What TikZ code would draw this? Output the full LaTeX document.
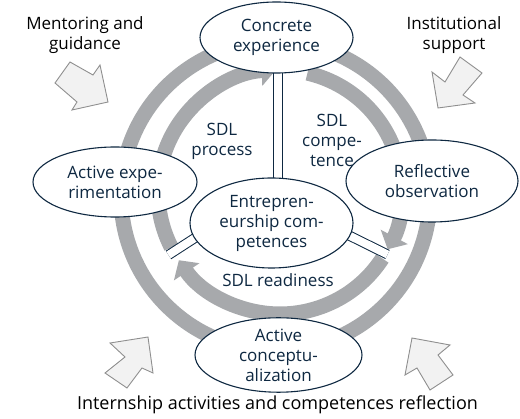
\documentclass[tikz,border=0pt]{standalone}
\usepackage{fontspec}
\setmainfont{Open Sans}
\usetikzlibrary{arrows.meta,shapes.geometric}
\definecolor{ringgray}{HTML}{A7A9AC}
\definecolor{navy}{HTML}{0E2841}
\definecolor{arrfill}{HTML}{F2F2F2}
\definecolor{arrline}{HTML}{8F8F8F}
\begin{document}
\begin{tikzpicture}[x=1pt,y=-1pt,
  ring/.style={draw=ringgray, line width=15pt},
  ringarrow/.style={ring, arrows={-Triangle[width=30pt,length=14pt]}},
  spoke/.style={draw=navy, line width=1pt, double=white, double distance=8pt},
  stage/.style={ellipse, draw=navy, fill=white, line width=1.1pt, inner sep=0pt, align=center, text=navy},
  lbl/.style={align=center, text=navy, inner sep=0pt},
  outer/.style={align=center, text=black, inner sep=0pt},
  blockarrow/.style={draw=arrline, fill=arrfill, line width=0.9pt, line join=miter},
  every node/.style={font=\fontsize{17}{20}\selectfont}
]
\useasboundingbox (0,0) rectangle (520,419);

% outer ring
\draw[ring] (275.5,196) circle[radius=154.5];
% inner ring segments
\coordinate (ic) at (280,192);
\draw[ringarrow] (ic) ++(153:122) arc[start angle=153, end angle=268, radius=122];
\draw[ringarrow] (ic) ++(283:122) arc[start angle=283, end angle=388, radius=122];
\draw[ringarrow] (ic) ++(33:122) arc[start angle=33, end angle=146, radius=122];

% spokes
\coordinate (st1) at (277.5,60);
\coordinate (st2) at (277.5,190);
\coordinate (sr1) at (337,229.5);
\coordinate (sr2) at (387.5,254.5);
\coordinate (sl1) at (208,229.5);
\coordinate (sl2) at (168.5,255);
\draw[spoke] (st1) -- (st2);
\draw[spoke] (sr1) -- (sr2);
\draw[spoke] (sl1) -- (sl2);

% stages
\node[stage, minimum width=153pt, minimum height=71pt] (ce) at (276.5,37.5) {Concrete\\experience};
\node[stage, minimum width=164pt, minimum height=70pt] (ae) at (115,182) {Active expe-\\rimentation};
\node[stage, minimum width=172pt, minimum height=82pt] (ro) at (432,181) {Reflective\\observation};
\node[stage, minimum width=163pt, minimum height=90pt] (ec) at (271.5,223) {Entrepren-\\eurship com-\\petences};
\node[stage, minimum width=167pt, minimum height=74pt] (ac) at (278.5,355) {Active\\conceptu-\\alization};

% sector labels
\node[lbl] (sp) at (222,141) {SDL\\process};
\node[lbl] (sc) at (332,140) {SDL\\compe-\\tence};
\node[lbl] (sr) at (278,280) {SDL readiness};

% outside labels
\node[outer] (mg) at (85,35) {Mentoring and\\guidance};
\node[outer] (is) at (454,35) {Institutional\\support};
\node[outer, font=\fontsize{18}{21}\selectfont] (ia) at (277.5,405) {Internship activities and competences reflection};

% block arrows
\draw[blockarrow] (55,83) -- (70,62) -- (93,75) -- (100,65) -- (108,102) -- (72,110) -- (77,102) -- cycle;
\draw[blockarrow] (438,108) -- (432,72) -- (445,82) -- (460,57) -- (482,73) -- (463,95) -- (475,103) -- cycle;
\draw[blockarrow] (148,337) -- (110,343) -- (125,357) -- (105,373) -- (127,388) -- (142,368) -- (153,373) -- cycle;
\draw[blockarrow] (412,338) -- (450,345) -- (438,355) -- (453,375) -- (430,390) -- (417,368) -- (405,375) -- cycle;
\end{tikzpicture}
\end{document}
